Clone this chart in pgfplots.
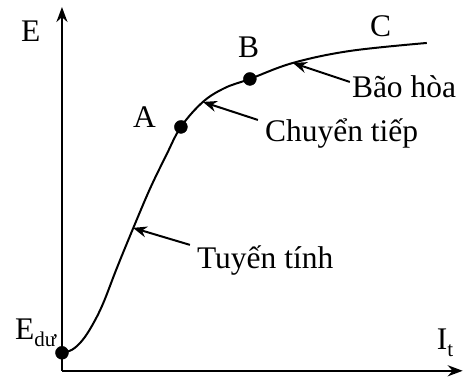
\documentclass[border=0pt]{standalone}
\usepackage{pgfplots}
\pgfplotsset{compat=1.18}
\usepackage{fontspec}
\setmainfont{Liberation Serif}
\usetikzlibrary{arrows.meta}

\newcommand{\labelfont}{\rmfamily\fontsize{31.5}{36}\selectfont}
\newcommand{\sub}[1]{\raisebox{-0.22em}{\fontsize{21}{24}\selectfont #1}}

\begin{document}
\begin{tikzpicture}
\begin{axis}[
    x=1pt, y=1pt,
    xmin=0, xmax=401, ymin=0, ymax=364,
    axis lines=left,
    axis line style={line width=2.5pt, -{Stealth[length=15pt,width=11pt]}},
    xtick=\empty, ytick=\empty,
    clip=false,
]
% keep the page frame fixed
\path (axis cs:-62,-8) rectangle (axis cs:402,371);

% magnetisation curve E(I_t)
\addplot[black, line width=2pt, smooth, tension=0.6] coordinates {
  (0,18) (10,21) (20,30) (30,45) (41,67) (55,103) (71,142) (88,182)
  (104,215) (119,244) (141,269) (163,283) (188,292) (231,308) (288,320)
  (365,328)
};

% characteristic points E_du, A, B
\addplot[only marks, mark=*, mark size=6.5pt, black] coordinates {
  (0,18) (119,244) (188,292)
};

% region pointers
\draw[line width=2pt, -{Stealth[length=14pt,width=11pt]}]
  (axis cs:128,126) -- (axis cs:71,143);
\draw[line width=2pt, -{Stealth[length=14pt,width=11pt]}]
  (axis cs:196,251) -- (axis cs:141,269);
\draw[line width=2pt, -{Stealth[length=14pt,width=11pt]}]
  (axis cs:288,289) -- (axis cs:231,308);

% labels
\node[anchor=base west, inner sep=0pt] at (axis cs:-41,329) {\labelfont E};
\node[anchor=base west, inner sep=0pt] at (axis cs:-47,31) {\labelfont E\sub{dư}};
\node[anchor=base west, inner sep=0pt] at (axis cs:375,21) {\labelfont I\sub{t}};
\node[anchor=base west, inner sep=0pt] at (axis cs:71,243) {\labelfont A};
\node[anchor=base west, inner sep=0pt] at (axis cs:176,313) {\labelfont B};
\node[anchor=base west, inner sep=0pt] at (axis cs:308,334) {\labelfont C};
\node[anchor=base west, inner sep=0pt] at (axis cs:135,102) {\labelfont Tuyến tính};
\node[anchor=base west, inner sep=0pt] at (axis cs:203,229) {\labelfont Chuyển tiếp};
\node[anchor=base west, inner sep=0pt] at (axis cs:290,273) {\labelfont Bão hòa};
\end{axis}
\end{tikzpicture}
\end{document}
